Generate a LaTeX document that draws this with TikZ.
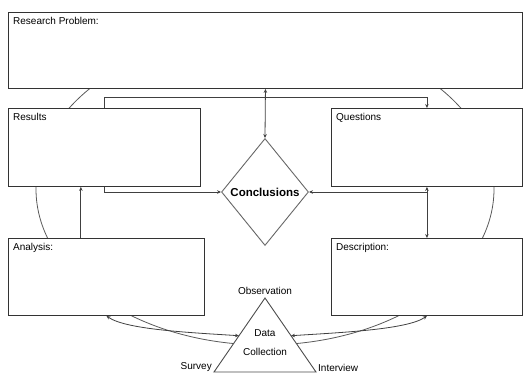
\documentclass[tikz,border=0pt]{standalone}
\usepackage{fontspec}
\setmainfont{Liberation Sans}
\usetikzlibrary{positioning,arrows.meta,shapes.geometric,calc}

\begin{document}
\begin{tikzpicture}[
    x=1pt, y=-1pt,
    box/.style={rectangle, draw=black!80, fill=white, line width=0.9pt, anchor=north west, inner sep=0pt},
    tag/.style={font=\fontsize{10}{12}\selectfont, inner sep=5pt, anchor=north west},
    txt/.style={font=\fontsize{10}{12}\selectfont, inner sep=2pt},
    decision/.style={diamond, draw=black!60, fill=white, line width=0.9pt, minimum width=87pt, minimum height=107pt, inner sep=0pt, font=\bfseries\fontsize{11.5}{13}\selectfont},
    ring/.style={ellipse, draw=black!65, line width=0.8pt, inner sep=0pt},
    tri/.style={draw=black!70, fill=white, line width=0.9pt},
    arrow/.style={-{Stealth[length=4pt,width=3.5pt]}, draw=black!75, line width=0.8pt},
    biarrow/.style={{Stealth[length=4pt,width=3.5pt]}-{Stealth[length=4pt,width=3.5pt]}, draw=black!75, line width=0.8pt}
]
\useasboundingbox (0,0) rectangle (523,374);

% Cycle behind the boxes
\node[ring, minimum width=458pt, minimum height=312pt] (cycle) at (265,189) {};

% Boxes
\node[box, minimum width=514pt, minimum height=76pt, label={[tag]north west:Research Problem:}] (rp) at (8,12) {};
\node[box, minimum width=192pt, minimum height=78pt, label={[tag]north west:Results}] (res) at (8,108) {};
\node[box, minimum width=191pt, minimum height=78pt, label={[tag]north west:Questions}] (que) at (331,108) {};
\node[box, minimum width=196pt, minimum height=77pt, label={[tag]north west:Analysis:}] (ana) at (8,238) {};
\node[box, minimum width=191pt, minimum height=77pt, label={[tag]north west:Description:}] (des) at (331,238) {};

% Conclusions
\node[decision] (concl) at (265,192) {Conclusions};

% Data collection
\coordinate (top) at (265,298);
\coordinate (bl) at (214,372);
\coordinate (br) at (316,372);
\draw[tri] (top) -- (bl) -- (br) -- cycle;
\coordinate (tl) at ($(top)!0.51!(bl)$);
\coordinate (tr) at ($(top)!0.51!(br)$);
\node[txt] (data) at (265,333) {Data};
\node[txt] (coll) at (265,352) {Collection};
\node[txt, above=1pt of top] (obs) {Observation};
\node[txt, anchor=east, yshift=4.5pt] (srv) at (bl) {Survey};
\node[txt, anchor=west, yshift=4.5pt] (itv) at (br) {Interview};

% Arrows
\coordinate (aup) at ($(ana.north west)!0.37!(ana.north east)$);
\draw[biarrow] (rp.south) -- (concl.north);
\draw[arrow] (res.north) -- ++(0,-11) -| (que.north);
\draw[arrow] (res.south) |- (concl.west);
\draw[biarrow] (que.south) -- (des.north);
\draw[arrow] (que.south |- concl.east) -- (concl.east);
\draw[arrow] (aup) -- (aup |- res.south);
\draw[biarrow] (ana.south) .. controls +(20,14) and +(-45,-3) .. (tl);
\draw[biarrow] (des.south) .. controls +(-20,14) and +(45,-3) .. (tr);

\end{tikzpicture}
\end{document}
